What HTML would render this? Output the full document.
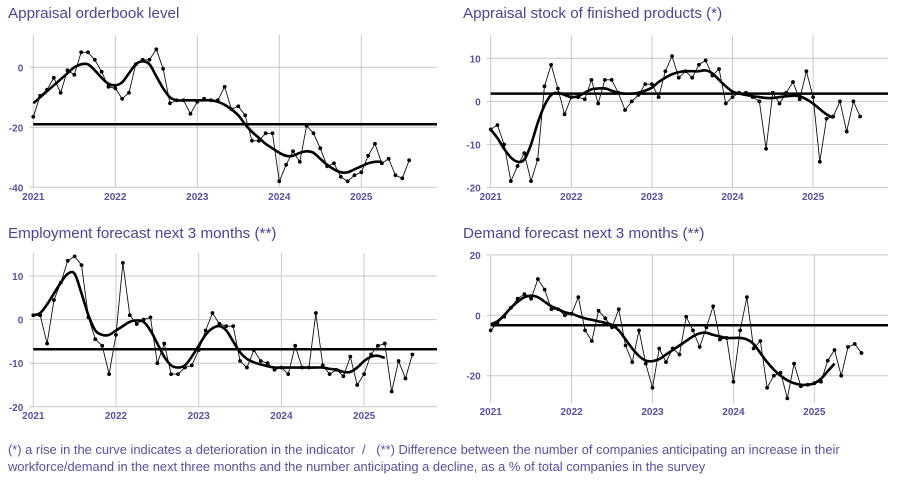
<!DOCTYPE html>
<html><head><meta charset="utf-8">
<style>
body{margin:0;background:#fff;width:902px;height:488px;overflow:hidden;font-family:"Liberation Sans",sans-serif;}
.t{position:absolute;color:#4e4396;font-size:15.2px;}
.f{position:absolute;left:8px;color:#5b4fa0;font-size:12.9px;line-height:17px;top:441px;width:890px}
</style></head><body>
<div class="t" style="left:8px;top:5px">Appraisal orderbook level</div>
<div class="t" style="left:463px;top:5px">Appraisal stock of finished products (*)</div>
<div class="t" style="left:8px;top:225px">Employment forecast next 3 months (**)</div>
<div class="t" style="left:463px;top:225px">Demand forecast next 3 months (**)</div>
<svg id="c" width="902" height="488" style="position:absolute;left:0;top:0"></svg>
<div class="f">(*) a rise in the curve indicates a deterioration in the indicator &nbsp;/ &nbsp; (**) Difference between the number of companies anticipating an increase in their workforce/demand in the next three months and the number anticipating a decline, as a % of total companies in the survey</div>
<script>
const years=["2021","2022","2023","2024","2025"];
const orderbookValues=[-16.5,-9.5,-7.5,-3.5,-8.5,-1,-2.5,5,5,2.5,-1.5,-6.5,-7,-10.5,-8.5,1,2.5,2.5,6,-0.5,-12,-11,-11,-15.5,-11.5,-10.5,-11,-11,-6.5,-14,-13,-16,-24.5,-24.5,-22,-22,-38,-32.5,-28,-31.5,-19.5,-22,-27,-33,-32,-36.5,-38,-36,-35,-29.5,-25.5,-32,-30.5,-36,-37,-31];
const orderbookTrend=[-12,-10,-8,-6,-4,-2,0,1,1,-1,-3.5,-5.5,-6,-5,-2,1,2,1,-3,-7,-10,-11,-11,-11,-11,-11,-11,-11.5,-12.5,-14,-16,-19,-21.5,-23.5,-25.5,-27,-28.5,-29.5,-29.5,-28.5,-28,-28.5,-30.5,-32.5,-34,-35,-35,-34,-33,-32,-31.5,-31.5];
const orderbookAvg=-19;
const stockValues=[-6.5,-5.5,-10,-18.5,-15,-12,-18.5,-13.5,3.5,8.5,3,-3,1,1,0.5,5,-0.5,5,5,2,-2,0,1.5,4,4,1,7,10.5,5.5,7,5.5,8.5,9.5,6,7.5,-0.5,1,2,2,1,0,-11,2,-0.5,2,4.5,0.5,7,1,-14,-4,-3.5,0,-7,0,-3.5];
const stockTrend=[-6.5,-8.5,-11,-13,-14,-13.5,-10,-5,-1,1.5,2,1.5,1,1.2,2,2.8,3,3,2.5,2,1.8,1.8,2,2.5,3.2,4.5,5.5,6.3,6.8,7,7,7,7.2,6.5,5,3.5,2.3,1.8,1.5,1.2,1,0.8,0.8,1,1.2,1.3,1.2,0.5,-0.5,-1.8,-3,-3.8];
const stockAvg=1.8;
const employmentValues=[1,1,-5.5,4.5,8.5,13.5,14.5,12.5,0.5,-4.5,-6,-12.5,-3.5,13,1,-1,0,0.5,-10,-5.5,-12.5,-12.5,-11,-10.5,-7,-2.5,1.5,-1,-1.5,-1.5,-9.5,-11,-7,-9.5,-10,-11.5,-11,-12.5,-6,-11,-11,1.5,-10.5,-12.5,-11.5,-13,-8.5,-15,-12.5,-8,-6,-5.5,-16.5,-9.5,-13.5,-8];
const employmentTrend=[1,1.5,3.5,6,8.5,10.5,10.5,6,1,-2.5,-3.5,-3.5,-2.5,-1.5,-0.5,-0.2,-0.5,-2.5,-5.5,-8.5,-10.5,-11,-10.5,-8.5,-6,-3.5,-2,-1.5,-2.5,-5,-7.5,-9,-9.8,-10.3,-10.7,-11,-11,-11,-11,-11,-11,-11,-11,-11.3,-11.5,-12,-12,-11,-9.5,-8.5,-8.3,-8.8];
const employmentAvg=-6.8;
const demandValues=[-5,-2.5,-0.5,2.5,5.5,7,5.5,12,8.5,2,2,0,0.5,6,-5,-8.5,1.5,-1,-4,2,-10,-15.5,-5,-16,-24,-11,-15.5,-11,-13,-0.5,-5,-10.5,-4,3,-8,-7.5,-22,-5,6,-11,-8.5,-24,-20,-19,-27.5,-16,-23.5,-23,-22.5,-22,-15,-11.5,-20,-10.5,-9.5,-12.5];
const demandTrend=[-3,-2,0,2.5,4.5,6,6.5,6,4.5,3,2,1,0.5,-0.3,-1,-1.5,-2,-2.5,-3.2,-5,-8,-11,-13.5,-15,-15.2,-14.5,-13,-11.5,-10,-8.5,-7,-6,-5.8,-6.5,-7,-7.5,-7.5,-7.5,-8,-9.5,-12.5,-15.5,-18,-20,-21.5,-22.5,-23,-23,-22.5,-21,-18.5,-16];
const demandAvg=-3.3;
const orderbookTicks=[0,-20,-40], stockTicks=[10,0,-10,-20], employmentTicks=[10,0,-10,-20], demandTicks=[20,0,-20];

const svg=document.getElementById('c');
const NS='http://www.w3.org/2000/svg';
function mk(tag,attrs,parent){const e=document.createElementNS(NS,tag);for(const k in attrs)e.setAttribute(k,attrs[k]);(parent||svg).appendChild(e);return e;}
function smooth(pts){let d='M'+pts[0][0]+','+pts[0][1];for(let i=0;i<pts.length-1;i++){const p0=pts[Math.max(0,i-1)],p1=pts[i],p2=pts[i+1],p3=pts[Math.min(pts.length-1,i+2)];d+=' C'+(p1[0]+(p2[0]-p0[0])/6)+','+(p1[1]+(p2[1]-p0[1])/6)+' '+(p2[0]-(p3[0]-p1[0])/6)+','+(p2[1]-(p3[1]-p1[1])/6)+' '+p2[0]+','+p2[1];}return d;}
function panel(name,cfg,vals,trend,avg,ticks){
  const g=mk('g',{});
  
  
  const X=m=>cfg.x0+m*cfg.py/12, Y=v=>cfg.zy-v*cfg.ppu;
  ticks.forEach(t=>{
    const l=mk('line',{x1:cfg.x0-4,x2:cfg.right,y1:Y(t),y2:Y(t),stroke:'#c8c8c8','stroke-width':1},g);
    
    
    const tx=mk('text',{x:cfg.x0-10,y:Y(t)+4,'text-anchor':'end','font-size':10,'font-weight':'bold',fill:'#5b4fa0'},g);
    tx.textContent=t;
    
    
  });
  years.forEach((yr,i)=>{
    const x=X(i*12);
    const l=mk('line',{x1:x,x2:x,y1:cfg.top,y2:cfg.bottom,stroke:'#c8c8c8','stroke-width':1},g);
    
    
    const tx=mk('text',{x:x,y:cfg.bottom+12,'text-anchor':'middle','font-size':10,'font-weight':'bold',fill:'#5b4fa0'},g);
    tx.textContent=yr;
    
    
  });
  const h=mk('line',{x1:cfg.x0,x2:cfg.right,y1:Y(avg),y2:Y(avg),stroke:'#000','stroke-width':2.5},g);
  
  
  const pts=vals.map((v,i)=>[X(i),Y(v)]);
  const pl=mk('polyline',{points:pts.map(p=>p.join(',')).join(' '),fill:'none',stroke:'#111','stroke-width':0.9},g);
  
  
  pts.forEach(p=>{const c=mk('circle',{cx:p[0],cy:p[1],r:1.9,fill:'#000'},g);
    
    });
  const tp=mk('path',{d:smooth(trend.map((v,i)=>[X(i),Y(v)])),fill:'none',stroke:'#000','stroke-width':2.6},g);
  
  
}
panel('orderbook',{x0:33.3,py:82,zy:67.3,ppu:3,top:35,bottom:188,right:437},orderbookValues,orderbookTrend,orderbookAvg,orderbookTicks);
panel('stock',{x0:490.7,py:80.6,zy:101.4,ppu:4.31,top:35,bottom:188,right:888},stockValues,stockTrend,stockAvg,stockTicks);
panel('employment',{x0:33.3,py:82.7,zy:319.6,ppu:4.36,top:253,bottom:407,right:437},employmentValues,employmentTrend,employmentAvg,employmentTicks);
panel('demand',{x0:490.7,py:80.9,zy:315.3,ppu:3.02,top:255,bottom:403,right:888},demandValues,demandTrend,demandAvg,demandTicks);
</script>
</body></html>
